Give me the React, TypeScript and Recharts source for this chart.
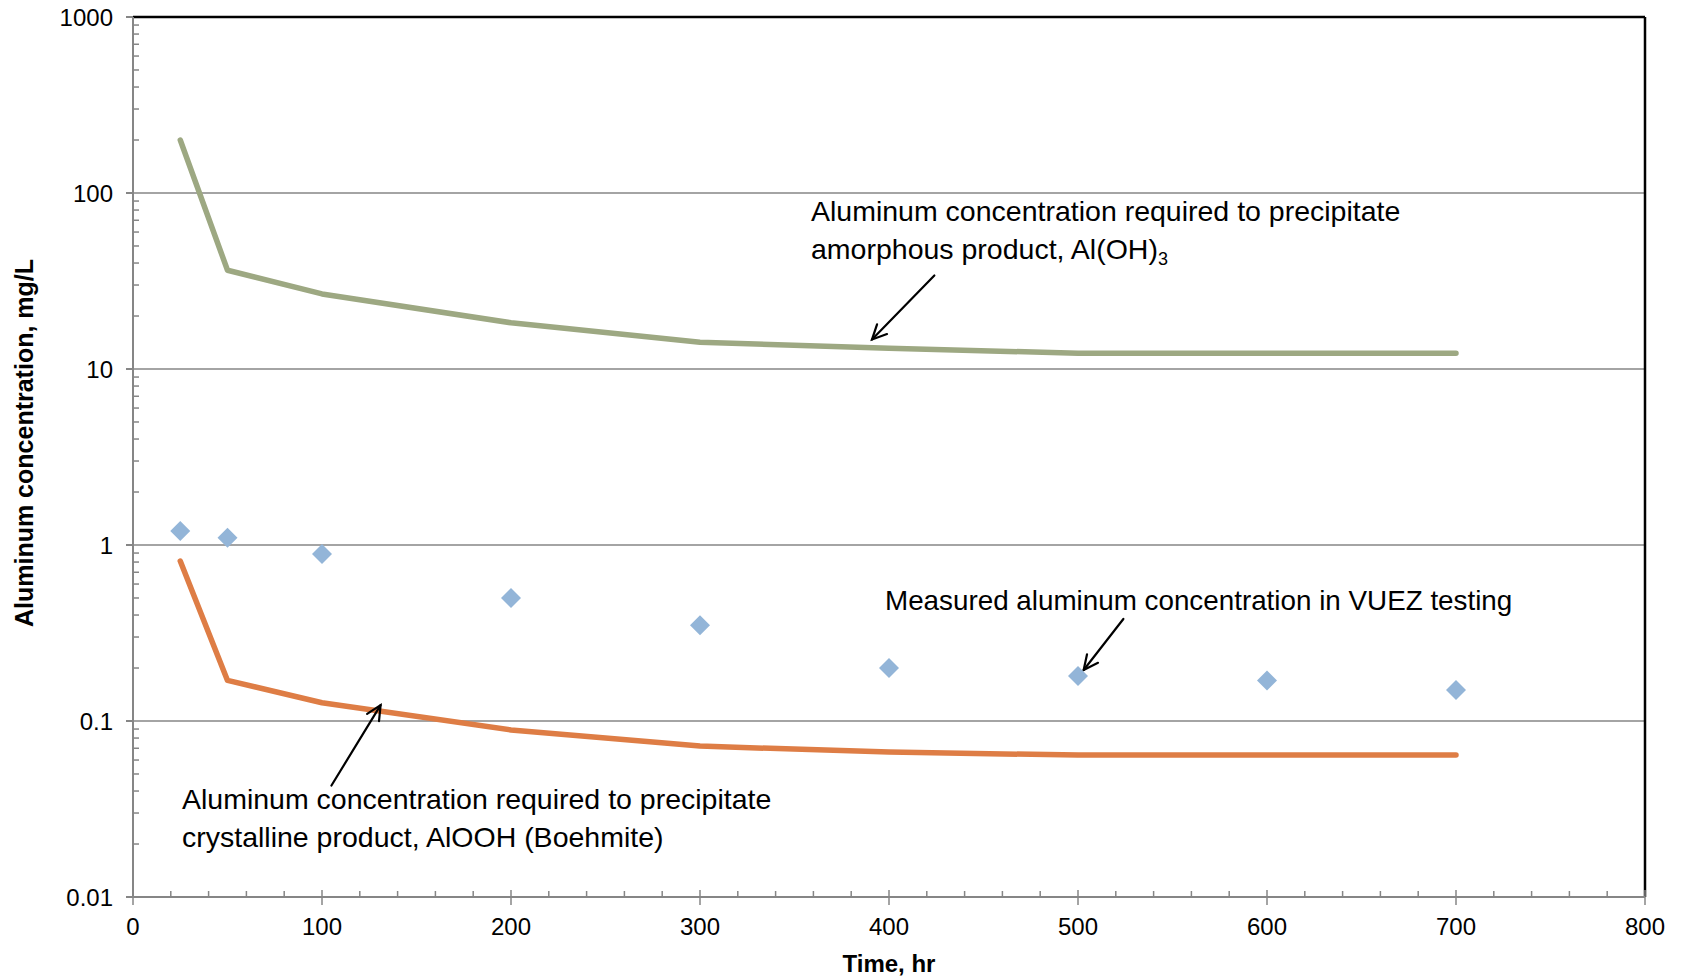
import React from "react";
import { ComposedChart, Line, XAxis, YAxis, ReferenceLine } from "recharts";

// time, hr
const hours = [25, 50, 100, 200, 300, 400, 500, 600, 700];
// Al(OH)3 amorphous solubility line, mg/L
const amorphous = [200, 36.4, 26.7, 18.3, 14.2, 13.1, 12.3, 12.3, 12.3];
// AlOOH (Boehmite) crystalline solubility line, mg/L
const crystalline = [0.81, 0.17, 0.127, 0.089, 0.072, 0.0666, 0.064, 0.064, 0.064];
// measured in VUEZ testing, mg/L
const measured = [1.2, 1.1, 0.89, 0.5, 0.35, 0.2, 0.18, 0.17, 0.15];

const yMajor = [0.01, 0.1, 1, 10, 100, 1000];
const yTicks = [0.01, 0.1, 1, 10, 100].flatMap((d) =>
  [1, 2, 3, 4, 5, 6, 7, 8, 9].map((k) => +(d * k).toPrecision(3))
).concat([1000]);
const xTicks = Array.from({ length: 41 }, (_, i) => i * 20);

// arrow segments [from, to] in data units
const arrows = [
  [{ x: 424, y: 34 }, { x: 391, y: 14.7 }],
  [{ x: 105, y: 0.043 }, { x: 131, y: 0.123 }],
  [{ x: 524, y: 0.38 }, { x: 503, y: 0.195 }],
];

const data = hours.map((h, i) => ({
  x: h,
  amorphous: amorphous[i],
  crystalline: crystalline[i],
  measured: measured[i],
}));

const FONT = "'Liberation Sans', Arial, sans-serif";
const AXIS = "#868686";

const isMajor = (v: number) => Math.abs(Math.log10(v) - Math.round(Math.log10(v))) < 1e-6;

const YTick = (p: any) => {
  const v = p.payload.value;
  if (isMajor(v)) {
    return (
      <g>
        <line x1={p.x - 7} x2={p.x} y1={p.y} y2={p.y} stroke={AXIS} strokeWidth={2} />
        <text x={p.x - 20} y={p.y} dy="0.36em" textAnchor="end" fontSize={24} fill="#000" fontFamily={FONT}>
          {v}
        </text>
      </g>
    );
  }
  return <line x1={p.x} x2={p.x + 6} y1={p.y} y2={p.y} stroke={AXIS} strokeWidth={1.5} />;
};

const XTick = (p: any) => {
  const v = p.payload.value;
  if (v % 100 === 0) {
    return (
      <g>
        <line x1={p.x} x2={p.x} y1={p.y - 7} y2={p.y + 8} stroke={AXIS} strokeWidth={1.5} />
        <text x={p.x} y={p.y + 29} dy="0.36em" textAnchor="middle" fontSize={24} fill="#000" fontFamily={FONT}>
          {v}
        </text>
      </g>
    );
  }
  return <line x1={p.x} x2={p.x} y1={p.y - 6} y2={p.y} stroke={AXIS} strokeWidth={1.5} />;
};

const Diamond = (p: any) => {
  if (p.cx == null || p.cy == null) return <g />;
  const r = 10;
  return (
    <path
      d={`M${p.cx},${p.cy - r}L${p.cx + r},${p.cy}L${p.cx},${p.cy + r}L${p.cx - r},${p.cy}Z`}
      fill="#93B5D8"
    />
  );
};

const Arrow = (p: any) => {
  const { x1, y1, x2, y2 } = p;
  const a = Math.atan2(y2 - y1, x2 - x1);
  const L = 16;
  const s = 0.45;
  const ax = x2 - L * Math.cos(a - s);
  const ay = y2 - L * Math.sin(a - s);
  const bx = x2 - L * Math.cos(a + s);
  const by = y2 - L * Math.sin(a + s);
  return (
    <g stroke="#000" strokeWidth={2.2} fill="none" strokeLinecap="round">
      <line x1={x1} y1={y1} x2={x2} y2={y2} />
      <polyline points={`${ax},${ay} ${x2},${y2} ${bx},${by}`} />
    </g>
  );
};

const note: React.CSSProperties = {
  position: "absolute",
  fontFamily: FONT,
  fontSize: 28.5,
  lineHeight: "38px",
  color: "#000",
  whiteSpace: "nowrap",
};

export default function App() {
  return (
    <div style={{ position: "absolute", left: 0, top: 0, width: 1683, height: 978, background: "#fff" }}>
      <ComposedChart
        width={1683}
        height={978}
        data={data}
        margin={{ top: 17, right: 38, bottom: 21, left: 0 }}
      >
        <XAxis
          dataKey="x"
          type="number"
          domain={[0, 800]}
          ticks={xTicks}
          interval={0}
          height={60}
          tickSize={0}
          tickMargin={0}
          tickLine={false}
          tick={<XTick />}
          stroke={AXIS}
          strokeWidth={2}
        />
        <YAxis
          type="number"
          scale="log"
          domain={[0.01, 1000]}
          ticks={yTicks}
          interval={0}
          allowDataOverflow
          width={133}
          tickSize={0}
          tickMargin={0}
          tickLine={false}
          tick={<YTick />}
          stroke={AXIS}
          strokeWidth={2}
        />
        {yMajor.slice(1, 5).map((v) => (
          <ReferenceLine key={v} y={v} stroke={AXIS} strokeWidth={1.5} />
        ))}
        <ReferenceLine y={1000} stroke="#000" strokeWidth={2.5} />
        <ReferenceLine x={800} stroke="#000" strokeWidth={2.5} />
        <Line
          dataKey="amorphous"
          stroke="#9DA882"
          strokeWidth={5.5}
          dot={false}
          strokeLinejoin="round"
          strokeLinecap="round"
          isAnimationActive={false}
        />
        <Line
          dataKey="crystalline"
          stroke="#DE7D45"
          strokeWidth={5.5}
          dot={false}
          strokeLinejoin="round"
          strokeLinecap="round"
          isAnimationActive={false}
        />
        <Line
          dataKey="measured"
          stroke="none"
          dot={<Diamond />}
          activeDot={false}
          isAnimationActive={false}
        />
        {arrows.map((seg, i) => (
          <ReferenceLine key={i} segment={seg} shape={Arrow} />
        ))}
      </ComposedChart>
      <div
        style={{
          position: "absolute",
          left: 24,
          top: 443,
          transform: "translate(-50%, -50%) rotate(-90deg)",
          fontFamily: FONT,
          fontWeight: "bold",
          fontSize: 25,
          whiteSpace: "nowrap",
        }}
      >
        Aluminum concentration, mg/L
      </div>
      <div
        style={{
          position: "absolute",
          left: 889,
          top: 964,
          transform: "translate(-50%, -50%)",
          fontFamily: FONT,
          fontWeight: "bold",
          fontSize: 24,
          whiteSpace: "nowrap",
        }}
      >
        Time, hr
      </div>
      <div style={{ ...note, left: 811, top: 192 }}>
        Aluminum concentration required to precipitate
        <br />
        amorphous product, Al(OH)<sub style={{ fontSize: 18, verticalAlign: "-6px", lineHeight: 0 }}>3</sub>
      </div>
      <div style={{ ...note, fontSize: 27.8, left: 885, top: 582 }}>
        Measured aluminum concentration in VUEZ testing
      </div>
      <div style={{ ...note, left: 182, top: 780 }}>
        Aluminum concentration required to precipitate
        <br />
        crystalline product, AlOOH (Boehmite)
      </div>
    </div>
  );
}
